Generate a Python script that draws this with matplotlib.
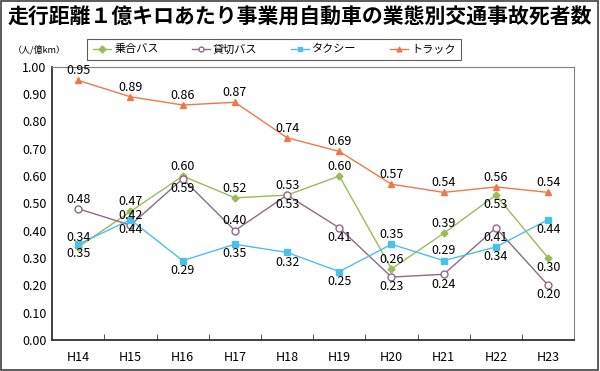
import matplotlib.pyplot as plt
from matplotlib.patches import Rectangle

plt.rcParams['font.family'] = ['Noto Sans CJK JP', 'DejaVu Sans']

years = ['H14', 'H15', 'H16', 'H17', 'H18', 'H19', 'H20', 'H21', 'H22', 'H23']
noriai = [0.34, 0.47, 0.60, 0.52, 0.53, 0.60, 0.26, 0.39, 0.53, 0.30]
kashikiri = [0.48, 0.42, 0.59, 0.40, 0.53, 0.41, 0.23, 0.24, 0.41, 0.20]
taxi = [0.35, 0.44, 0.29, 0.35, 0.32, 0.25, 0.35, 0.29, 0.34, 0.44]
truck = [0.95, 0.89, 0.86, 0.87, 0.74, 0.69, 0.57, 0.54, 0.56, 0.54]

# label placement: 1 = above, -1 = below
noriai_pos = [1, 1, 1, 1, 1, 1, 1, 1, -1, -1]
kashikiri_pos = [1, 1, -1, 1, -1, -1, -1, -1, -1, -1]
taxi_pos = [-1, -1, -1, -1, -1, -1, 1, 1, -1, -1]
truck_pos = [1] * 10

fig = plt.figure(figsize=(6, 3.71), dpi=100)
fig.patches.append(Rectangle((0.002, 0.003), 0.994, 0.994, transform=fig.transFigure,
                             fill=False, edgecolor='#404040', linewidth=1.2))

ax = fig.add_axes([0.087, 0.084, 0.87, 0.736])
x = range(len(years))

series = [
    ('乗合バス', noriai, noriai_pos, '#9BBB59', dict(marker='D', markersize=3.5, markerfacecolor='#9BBB59')),
    ('貸切バス', kashikiri, kashikiri_pos, '#8E6A84', dict(marker='o', markersize=5, markerfacecolor='white')),
    ('タクシー', taxi, taxi_pos, '#4BC0E8', dict(marker='s', markersize=4.5, markerfacecolor='#4BC0E8')),
    ('トラック', truck, truck_pos, '#F07848', dict(marker='^', markersize=5, markerfacecolor='#F07848')),
]

for name, vals, pos, col, mk in series:
    ax.plot(x, vals, color=col, linewidth=1.0, label=name, markeredgecolor=col, **mk)
    for i, (v, p) in enumerate(zip(vals, pos)):
        ax.annotate(f'{v:.2f}', (i, v), xytext=(0, 7 * p), textcoords='offset points',
                    ha='center', va='center', fontsize=9)

ax.set_xlim(-0.5, len(years) - 0.5)
ax.set_ylim(0, 1.0)
ax.set_yticks([i / 10 for i in range(11)])
ax.set_yticklabels([f'{i / 10:.2f}' for i in range(11)], fontsize=9)
ax.set_xticks(list(x))
ax.set_xticklabels(years, fontsize=9)
ax.set_xticks([i + 0.5 for i in range(len(years) - 1)], minor=True)
ax.tick_params(axis='x', which='major', length=0, pad=8)
ax.tick_params(axis='x', which='minor', length=4, direction='in', color='#333333')
ax.tick_params(axis='y', length=0, pad=4)
for s in ['top', 'right']:
    ax.spines[s].set_color('#808080')
for s in ['left', 'bottom']:
    ax.spines[s].set_color('#333333')
    ax.spines[s].set_linewidth(1.3)

fig.text(0.5, 0.953, '走行距離１億キロあたり事業用自動車の業態別交通事故死者数',
         ha='center', va='center', fontsize=15, fontweight='bold')
fig.text(0.022, 0.866, '（人/億km）', fontsize=6.5, va='center', ha='left')

leg = fig.legend(loc='center', bbox_to_anchor=(0.457, 0.867), ncol=4, fontsize=8,
                 frameon=True, fancybox=False, edgecolor='#333333',
                 borderpad=0.5, borderaxespad=0, columnspacing=3.0,
                 handlelength=1.6, handletextpad=0.3)
leg.get_frame().set_linewidth(0.8)
leg.get_frame().set_boxstyle('square', pad=0)
for h in leg.legend_handles:
    h.set_markersize(3.5)

fig.savefig('out.png', dpi=100)
